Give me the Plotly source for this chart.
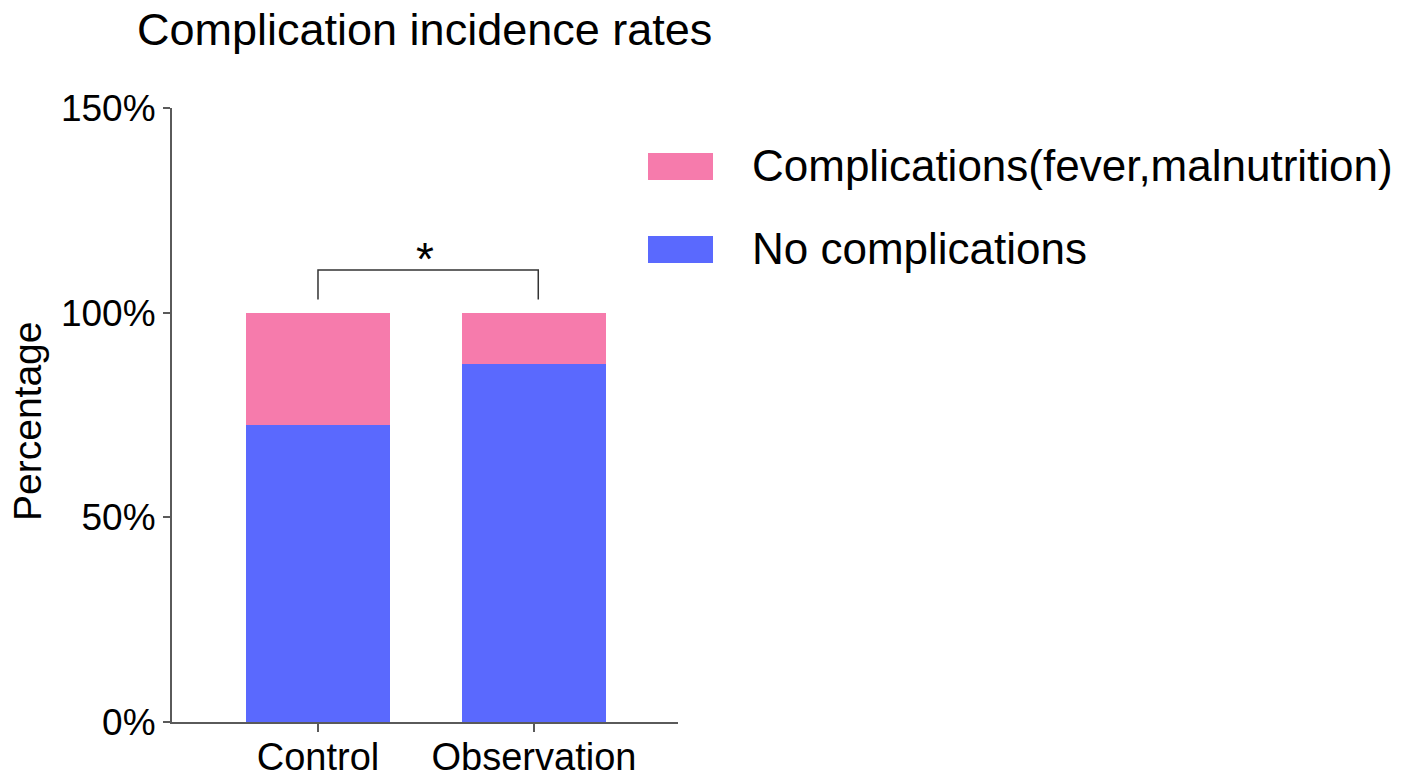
import plotly.graph_objects as go

# ---- data ----
categories = ["Control", "Observation"]
no_complications = [72.5, 87.5]
complications = [27.5, 12.5]
series_names = ["No complications", "Complications(fever,malnutrition)"]
y_ticks = [0, 50, 100, 150]
y_tick_labels = ["0%", "50%", "100%", "150%"]
significance = "*"

BLUE = "#5A69FE"
PINK = "#F67BAC"
FONT = "Liberation Sans, Arial, sans-serif"

W, H = 1414, 777
L, R, T, B = 172, 1414 - 678, 108, 777 - 722
pw = W - L - R
ph = H - T - B

def px_x(x):
    return (x - L) / pw

def px_y(y):
    return (H - B - y) / ph

fig = go.Figure()
fig.add_trace(go.Bar(x=categories, y=no_complications, name=series_names[0],
                     marker=dict(color=BLUE, line=dict(width=0)), width=0.667))
fig.add_trace(go.Bar(x=categories, y=complications, name=series_names[1],
                     marker=dict(color=PINK, line=dict(width=0)), width=0.667))

fig.update_layout(
    width=W, height=H, autosize=False,
    barmode="stack",
    showlegend=False,
    plot_bgcolor="white", paper_bgcolor="white",
    margin=dict(l=L, r=R, t=T, b=B, pad=0, autoexpand=False),
    font=dict(family=FONT, color="black"),
    title=dict(text="Complication incidence rates", x=137 / W, xanchor="left",
               y=1 - 29 / H, yanchor="middle", xref="container", yref="container",
               font=dict(size=45, family=FONT, color="black")),
    xaxis=dict(range=[-0.676, 1.667], showline=True, linecolor="#5a5a5a", linewidth=2,
               ticks="outside", ticklen=8, tickwidth=2, tickcolor="#5a5a5a",
               tickfont=dict(size=38, family=FONT, color="black"),
               ticklabelstandoff=-8,
               showgrid=False, zeroline=False, automargin=False),
    yaxis=dict(range=[0, 150], tickvals=y_ticks, ticktext=y_tick_labels,
               showline=True, linecolor="#5a5a5a", linewidth=2,
               ticks="outside", ticklen=7, tickwidth=2, tickcolor="#5a5a5a",
               tickfont=dict(size=37, family=FONT, color="black"),
               showgrid=False, zeroline=False, automargin=False),
)

# y-axis title
fig.add_annotation(text="Percentage", textangle=-90, xref="paper", yref="paper",
                   x=px_x(27), y=px_y(422), xanchor="center", yanchor="middle",
                   showarrow=False, font=dict(size=39, family=FONT, color="black"))

# significance bracket
fig.add_shape(type="path", xref="x", yref="y",
              path="M 0,103.2 L 0,110.4 L 1.02,110.4 L 1.02,103.2",
              line=dict(color="#333333", width=1.5))
fig.add_annotation(text=significance, xref="x", yref="y", x=0.495, y=113.2,
                   xanchor="center", yanchor="middle", showarrow=False,
                   font=dict(size=46, family=FONT, color="black"))

# custom legend
legend_items = [(series_names[1], PINK, 153, 180, 167), (series_names[0], BLUE, 236, 263, 250)]
for name, col, y0, y1, yc in legend_items:
    fig.add_shape(type="rect", xref="paper", yref="paper",
                  x0=px_x(648), x1=px_x(713), y0=px_y(y1), y1=px_y(y0),
                  fillcolor=col, line=dict(width=0))
    fig.add_annotation(text=name, xref="paper", yref="paper", x=px_x(750), y=px_y(yc - 2),
                       xanchor="left", yanchor="middle", showarrow=False,
                       font=dict(size=44, family=FONT, color="black"))

fig.write_html("out.html", config={"displayModeBar": False, "responsive": False},
               post_script="document.body.style.margin='0';document.body.style.overflow='hidden';")
